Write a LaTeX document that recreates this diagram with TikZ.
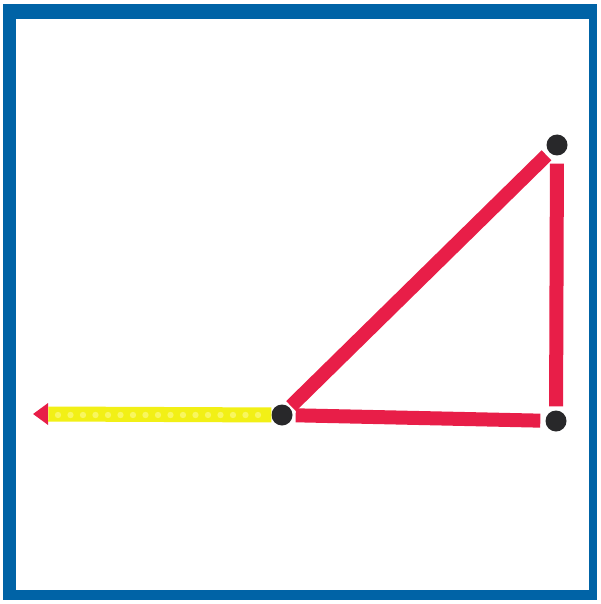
\documentclass[tikz,border=0pt]{standalone}
\usetikzlibrary{shapes.geometric}
\definecolor{rahmenblau}{RGB}{0,99,166}
\definecolor{streifenrot}{RGB}{232,30,72}
\definecolor{streifengelb}{RGB}{242,240,22}
\definecolor{noppengelb}{RGB}{248,246,95}
\definecolor{punktschwarz}{RGB}{40,40,42}
\begin{document}
\begin{tikzpicture}[
		x=1pt, y=-1pt,
		punkt/.style={circle, fill=punktschwarz, minimum size=21pt, inner sep=0pt},
		rot/.style={draw=streifenrot, line width=14pt},
		gelb/.style={draw=streifengelb, line width=15pt},
		spitze/.style={isosceles triangle, isosceles triangle stretches,
			shape border rotate=180, fill=streifenrot, minimum height=15pt,
			minimum width=22pt, inner sep=0pt},
	]
		% Rahmen
		\useasboundingbox (0,0) rectangle (600,604);
		\fill[white] (0,0) rectangle (600,604);
		\fill[rahmenblau] (3,4) rectangle (597,600);
		\fill[white] (16,19) rectangle (589,590);

		% Punkte und Pfeilspitze
		\node[punkt] (ursprung) at (282,415) {};
		\node[punkt] (oben) at (557,145) {};
		\node[punkt] (ecke) at (556,421) {};
		\node[spitze] (spitze) at (42.5,414) {};

		% Streifen des Dreiecks
		\draw[rot, shorten <=2pt, shorten >=4pt] (ursprung) -- (oben);
		\draw[rot, shorten <=8pt, shorten >=4pt] (oben) -- (ecke);
		\draw[rot, shorten <=3pt, shorten >=5pt] (ursprung) -- (ecke);

		% gelber Streifen mit Noppen
		\draw[gelb] (ursprung) -- (spitze.east);
		\foreach \i in {0,...,16}
			\fill[noppengelb] (58+\i*12.5,415) circle (3.2pt);
	\end{tikzpicture}
\end{document}
